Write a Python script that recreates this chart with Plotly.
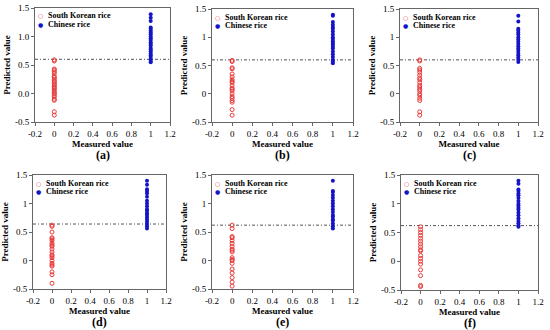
import plotly.graph_objects as go

panel_labels = ["(a)", "(b)", "(c)", "(d)", "(e)", "(f)"]
series_names = ["South Korean rice", "Chinese rice"]
thresholds = [0.60, 0.60, 0.60, 0.64, 0.62, 0.62]

korean_y = [
    [0.59, 0.57, 0.43, 0.41, 0.38, 0.35, 0.30, 0.28, 0.25, 0.22, 0.20, 0.17, 0.15, 0.12, 0.10, 0.08, 0.05, 0.02, 0.00, -0.03, -0.06, -0.10, -0.12, -0.32, -0.38],
    [0.59, 0.57, 0.46, 0.44, 0.35, 0.30, 0.25, 0.22, 0.20, 0.15, 0.10, 0.08, 0.05, 0.00, -0.05, -0.08, -0.12, -0.15, -0.28, -0.38],
    [0.60, 0.58, 0.45, 0.42, 0.38, 0.33, 0.28, 0.25, 0.20, 0.15, 0.12, 0.08, 0.05, 0.00, -0.03, -0.08, -0.12, -0.32, -0.38],
    [0.62, 0.60, 0.50, 0.40, 0.38, 0.35, 0.30, 0.27, 0.25, 0.20, 0.15, 0.10, 0.08, 0.05, 0.00, -0.05, -0.08, -0.10, -0.20, -0.25, -0.40],
    [0.62, 0.56, 0.42, 0.40, 0.35, 0.30, 0.25, 0.20, 0.18, 0.15, 0.05, 0.02, 0.00, -0.05, -0.15, -0.22, -0.30, -0.38, -0.45],
    [0.60, 0.55, 0.50, 0.45, 0.40, 0.35, 0.30, 0.25, 0.20, 0.18, 0.10, 0.05, 0.00, -0.05, -0.15, -0.25, -0.42, -0.44],
]
chinese_y = [
    [1.39, 1.33, 1.27, 1.16, 1.13, 1.10, 1.07, 1.04, 1.00, 0.97, 0.94, 0.90, 0.87, 0.84, 0.80, 0.77, 0.74, 0.70, 0.67, 0.64, 0.60, 0.57, 0.55],
    [1.40, 1.38, 1.27, 1.22, 1.18, 1.15, 1.10, 1.05, 1.00, 0.97, 0.93, 0.90, 0.87, 0.83, 0.80, 0.75, 0.70, 0.65, 0.60, 0.57, 0.54],
    [1.38, 1.28, 1.15, 1.12, 1.08, 1.05, 1.00, 0.96, 0.92, 0.88, 0.84, 0.80, 0.76, 0.72, 0.68, 0.64, 0.60, 0.56],
    [1.40, 1.33, 1.25, 1.22, 1.18, 1.12, 1.05, 1.00, 0.95, 0.90, 0.87, 0.83, 0.80, 0.76, 0.72, 0.68, 0.64, 0.60, 0.56],
    [1.40, 1.22, 1.20, 1.15, 1.10, 1.05, 1.00, 0.95, 0.90, 0.85, 0.80, 0.77, 0.73, 0.70, 0.65, 0.60, 0.56],
    [1.40, 1.35, 1.25, 1.22, 1.18, 1.15, 1.10, 1.05, 1.00, 0.97, 0.93, 0.90, 0.85, 0.80, 0.75, 0.70, 0.66, 0.62, 0.60],
]
korean_x = 0
chinese_x = 1

x_ticks = [-0.2, 0, 0.2, 0.4, 0.6, 0.8, 1, 1.2]
x_ticktext = ["-0.2", "0", "0.2", "0.4", "0.6", "0.8", "1", "1.2"]
y_ticks = [-0.5, 0, 0.5, 1, 1.5]
y_ticktext_a = ["-0.5", "0.0", "0.5", "1.0", "1.5"]
y_ticktext = ["-0.5", "0", "0.5", "1", "1.5"]

RED = "#e83a3a"
BLUE = "#1414c8"
W, H = 550, 330
# pixel boxes (left, right, top, bottom)
boxes = [
    (35, 170, 8, 122), (212, 353, 9, 122), (400, 538, 9, 122),
    (33, 166, 175, 289), (212, 353, 175, 289), (401, 538, 175, 290),
]

FONT = "Liberation Serif"
fig = go.Figure()
layout = dict(width=W, height=H, margin=dict(l=0, r=0, t=0, b=0, autoexpand=False),
              paper_bgcolor="white", plot_bgcolor="white", showlegend=False,
              font=dict(family=FONT, size=9, color="black"))
annotations = []

for i in range(6):
    n = i + 1
    xa = "x" if n == 1 else f"x{n}"
    ya = "y" if n == 1 else f"y{n}"
    l, r, t, b = boxes[i]
    fig.add_trace(go.Scatter(x=[x_ticks[0], x_ticks[-1]], y=[thresholds[i]] * 2, mode="lines",
                             line=dict(color="#555555", width=1, dash="3px,2px,1px,2px"),
                             xaxis=xa, yaxis=ya, hoverinfo="skip"))
    fig.add_trace(go.Scatter(x=[korean_x] * len(korean_y[i]), y=korean_y[i], mode="markers",
                             name=series_names[0],
                             marker=dict(symbol="circle-open", size=4, color=RED, line=dict(width=1)),
                             xaxis=xa, yaxis=ya))
    fig.add_trace(go.Scatter(x=[chinese_x] * len(chinese_y[i]), y=chinese_y[i], mode="markers",
                             name=series_names[1],
                             marker=dict(symbol="circle", size=4, color=BLUE),
                             xaxis=xa, yaxis=ya))
    axcommon = dict(showline=True, linecolor="#666666", linewidth=1, mirror=True,
                    ticks="outside", ticklen=3, tickcolor="#666666", showgrid=False, zeroline=False,
                    automargin=False,
                    tickfont=dict(family=FONT, size=9, color="black"))
    layout["xaxis" if n == 1 else f"xaxis{n}"] = dict(
        axcommon, domain=[l / W, r / W], range=[-0.2, 1.2], anchor=ya,
        tickvals=x_ticks, ticktext=x_ticktext,
        title=dict(text="<b>Measured value</b>", font=dict(family=FONT, size=9), standoff=0))
    layout["yaxis" if n == 1 else f"yaxis{n}"] = dict(
        axcommon, domain=[1 - b / H, 1 - t / H], range=[-0.5, 1.5], anchor=xa,
        tickvals=y_ticks, ticktext=y_ticktext_a if i == 0 else y_ticktext,
        title=dict(text="<b>Predicted value</b>", font=dict(family=FONT, size=9), standoff=2))
    # legend (symbol + label) in the upper-left corner of each panel
    for k, (sym, col) in enumerate([("○", RED), ("●", BLUE)]):
        yy = 1 - (t + 8 + 8.5 * k) / H
        annotations.append(dict(text=f"<span style='color:{col}'>{sym}</span>", x=(l + 5) / W, y=yy,
                                xref="paper", yref="paper", xanchor="center", yanchor="middle",
                                showarrow=False, font=dict(family="DejaVu Sans", size=6, color=col)))
        annotations.append(dict(text=f"<b>{series_names[k]}</b>", x=(l + 11) / W, y=yy,
                                xref="paper", yref="paper", xanchor="left", yanchor="middle",
                                showarrow=False, font=dict(family=FONT, size=8, color="black")))
    annotations.append(dict(text=f"<b>{panel_labels[i]}</b>", x=(l + r) / 2 / W,
                            y=1 - (b + 33) / H, xref="paper", yref="paper",
                            xanchor="center", yanchor="middle",
                            showarrow=False, font=dict(family=FONT, size=12, color="black")))

layout["annotations"] = annotations
fig.update_layout(**layout)
fig.update_xaxes(tickprefix="<b>", ticksuffix="</b>")
fig.update_yaxes(tickprefix="<b>", ticksuffix="</b>")
fig.write_html("out.html", config={"displayModeBar": False},
               post_script="document.body.style.margin='0px';document.body.style.overflow='hidden';")
